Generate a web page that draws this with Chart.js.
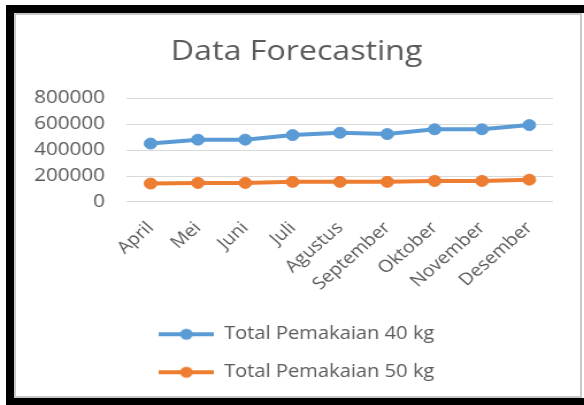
<!DOCTYPE html>
<html>
<head>
<meta charset="utf-8">
<script src="https://cdn.jsdelivr.net/npm/chart.js@4"></script>
<style>
  html, body { margin: 0; padding: 0; background: #fff; }
  body { width: 584px; height: 405px; position: relative; overflow: hidden; }
  #wrap {
    position: absolute; left: 0; top: 0;
    width: 508px; height: 405px;
    transform: scaleX(1.1496); transform-origin: 0 0;
  }
  #frame {
    position: absolute; left: 6px; top: 5px; right: 0; bottom: 0;
    border-left: 8px solid #000; border-top: 8px solid #000; border-bottom: 7px solid #000;
    pointer-events: none;
  }
  #frame div {
    position: absolute; left: 0; top: 0; right: 2px; bottom: 0;
    border: 2px solid #c8c8c8;
  }
</style>
</head>
<body>
<div id="wrap"><canvas id="lineForecast"></canvas></div>
<div id="frame"><div></div></div>
<script>
const months = ["April", "Mei", "Juni", "Juli", "Agustus", "September", "Oktober", "November", "Desember"];
const pemakaian40 = [450000, 480000, 480000, 515000, 533000, 523000, 560000, 560000, 592000];
const pemakaian50 = [142000, 147000, 147000, 155000, 155000, 155000, 162000, 162000, 172000];
const yTicks = [0, 200000, 400000, 600000, 800000];

const blue = "#5b9bd5";
const orange = "#ed7d31";
const grey = "#595959";

Chart.defaults.font.family = "'Open Sans'";
Chart.defaults.color = grey;

// legend icon: short line with a dot, like the office chart legend
function legendIcon(color) {
  const c = document.createElement("canvas");
  c.width = 48;
  c.height = 14;
  const g = c.getContext("2d");
  g.strokeStyle = color;
  g.lineWidth = 4;
  g.beginPath();
  g.moveTo(0, 7);
  g.lineTo(48, 7);
  g.stroke();
  g.fillStyle = color;
  g.beginPath();
  g.arc(24, 7, 5.5, 0, Math.PI * 2);
  g.fill();
  return c;
}

const ctx = document.getElementById("lineForecast");

new Chart(ctx, {
  type: "line",
  data: {
    labels: months,
    datasets: [
      {
        label: "Total Pemakaian 40 kg",
        data: pemakaian40,
        borderColor: blue,
        backgroundColor: blue,
        pointBackgroundColor: blue,
        borderWidth: 4,
        pointRadius: 5.5,
        pointHoverRadius: 5.5,
        pointBorderWidth: 1,
      },
      {
        label: "Total Pemakaian 50 kg",
        data: pemakaian50,
        borderColor: orange,
        backgroundColor: orange,
        pointBackgroundColor: orange,
        borderWidth: 4,
        pointRadius: 5.5,
        pointHoverRadius: 5.5,
        pointBorderWidth: 1,
      },
    ],
  },
  options: {
    animation: false,
    responsive: true,
    maintainAspectRatio: false,
    devicePixelRatio: 1,
    layout: { padding: { top: 0, left: 14, right: 6, bottom: 14 } },
    scales: {
      y: {
        min: 0,
        max: 800000,
        afterBuildTicks: (scale) => {
          scale.ticks = yTicks.map((v) => ({ value: v }));
        },
        afterFit: (scale) => {
          scale.width = 96.4;
        },
        grid: { color: "#d9d9d9", drawTicks: false },
        border: { display: false },
        ticks: {
          padding: 19,
          font: { size: 18 },
          color: grey,
          callback: (v) => String(v),
        },
      },
      y2: {
        position: "right",
        grid: { display: false },
        border: { display: false },
        ticks: { display: false },
        afterFit: (scale) => {
          scale.width = 21;
        },
      },
      x: {
        offset: true,
        grid: { display: false, drawTicks: false },
        border: { display: false },
        afterFit: (scale) => {
          scale.height = 103;
        },
        ticks: {
          autoSkip: false,
          minRotation: 45,
          maxRotation: 45,
          padding: 16,
          font: { size: 17 },
          color: grey,
        },
      },
    },
    plugins: {
      title: {
        display: true,
        text: "Data Forecasting",
        color: grey,
        font: { size: 28, weight: "normal" },
        padding: { top: 35, bottom: 29.5 },
      },
      legend: {
        position: "bottom",
        labels: {
          usePointStyle: true,
          pointStyleWidth: 48,
          padding: 20.5,
          color: grey,
          font: { size: 17.5 },
          generateLabels: (chart) => {
            const items = Chart.defaults.plugins.legend.labels.generateLabels(chart);
            items.forEach((item) => {
              item.pointStyle = legendIcon(chart.data.datasets[item.datasetIndex].borderColor);
            });
            return items;
          },
        },
      },
      tooltip: { enabled: false },
    },
  },
});
</script>
</body>
</html>
